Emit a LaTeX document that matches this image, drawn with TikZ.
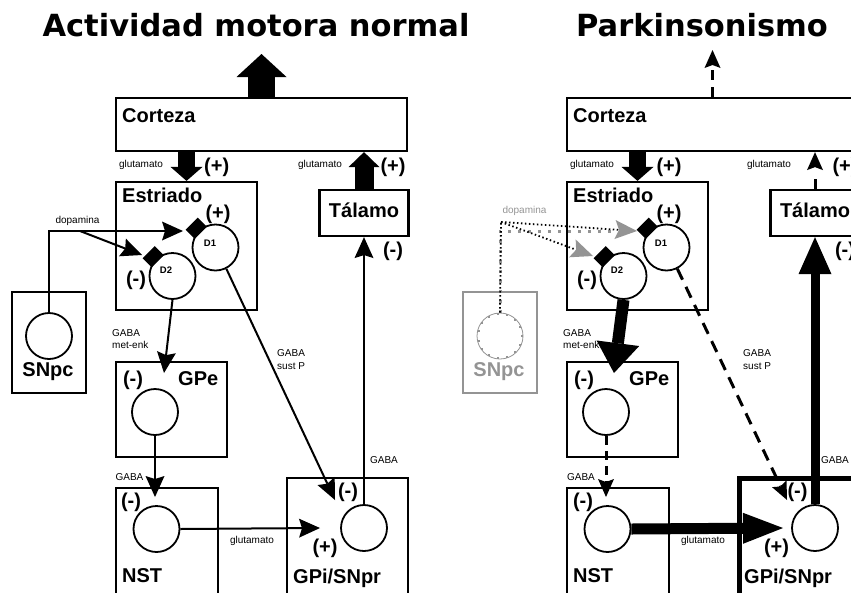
\documentclass[tikz,border=0pt]{standalone}
\usepackage{fontspec}
\setmainfont{Liberation Sans}
\newfontfamily\titlefont{DejaVu Sans}
\usepackage{xcolor}
\usepackage{tikz}
\usetikzlibrary{arrows.meta, calc}

\definecolor{faded}{gray}{0.58}

\begin{document}
\begin{tikzpicture}[x=1pt, y=-1pt,
  box/.style={draw, line width=2.2pt, inner sep=0pt},
  cell/.style={circle, draw, fill=white, line width=1.8pt, minimum size=46pt, inner sep=0pt},
  receptor/.style={fill=black, rotate=45, minimum width=17pt, minimum height=13pt, inner sep=0pt},
  boxname/.style={font=\bfseries\fontsize{20}{24}\selectfont, inner sep=0pt},
  sign/.style={font=\bfseries\fontsize{20}{24}\selectfont, inner sep=0pt},
  tag/.style={font=\fontsize{10}{12.5}\selectfont, inner sep=0pt, align=left},
  dname/.style={font=\bfseries\fontsize{9.5}{11}\selectfont, inner sep=0pt},
  headline/.style={font=\titlefont\bfseries\fontsize{30.5}{36}\selectfont, inner sep=0pt},
  link/.style={line width=2pt, -{Stealth[length=21pt, width=19pt, inset=3pt, line width=0pt]}},
  weak/.style={line width=3pt, dash pattern=on 10pt off 7pt, -{Stealth[length=18pt, width=16pt, inset=3pt, line width=0pt]}},
  fat/.style n args={3}{line width=#1, -{Triangle[width=#2, length=#3, line width=0pt]}},
  dopa/.style={line width=1.8pt, dash pattern=on 1.5pt off 2.5pt},
  fadeddots/.style={faded, line width=3pt, dash pattern=on 3pt off 7pt}
]

\clip (0,0) rectangle (851,592);

% Actividad motora normal
\node[headline, anchor=base] (titleA) at (256,36.7) {Actividad motora normal};

\node[box, minimum width=291pt, minimum height=53pt] (corteza)  at (261.5,124.5) {};
\node[box, minimum width=141pt, minimum height=128pt] (estriado) at (186.5,246) {};
\node[box, minimum width=89pt,  minimum height=46pt]  (talamo)   at (364,213) {};
\node[box, minimum width=74pt,  minimum height=101pt] (snpc)     at (49,342.5) {};
\node[box, minimum width=111pt, minimum height=95pt]  (gpe)      at (171.5,409.5) {};
\node[box, minimum width=102pt, minimum height=132pt] (nst)      at (167,554) {};
\node[box, minimum width=121pt, minimum height=142pt] (gpi)      at (347.5,549) {};

\node[boxname, anchor=base west] at (122,122.5) {Corteza};
\node[boxname, anchor=base west] at (122,202.3) {Estriado};
\node[boxname, anchor=base]      at (364,217.5) {Tálamo};
\node[boxname, anchor=base]      at (48,376)    {SNpc};
\node[boxname, anchor=base west] at (178,385)   {GPe};
\node[boxname, anchor=base west] at (122,582.7) {NST};
\node[boxname, anchor=base west] at (293,583)   {GPi/SNpr};

\node[cell] (d1)    at (215.5,247.5) {};
\node[cell] (d2)    at (172.5,276) {};
\node[cell] (snpcc) at (49,336) {};
\node[cell] (gpec)  at (155,412) {};
\node[cell] (nstc)  at (156.5,529) {};
\node[cell] (gpic)  at (364,528) {};

\node[receptor] at ($(d1.center)!1.14!(d1.135)$) {};
\node[receptor] at ($(d2.center)!1.14!(d2.135)$) {};
\node[dname] at (210,243) {D1};
\node[dname] at (166,270) {D2};

\coordinate (out) at (261.5,54);
\draw[fat={27pt}{50pt}{23pt}] (corteza.north) -- (out);
\draw[fat={17pt}{32pt}{14pt}] (estriado.north |- corteza.south) -- (estriado.north);
\draw[fat={19pt}{31pt}{15pt}] (talamo.north) -- (talamo.north |- corteza.south);

\coordinate (dopa)      at (49,231);
\coordinate (dopasplit) at (80,231);
\coordinate (d1in)      at (183,231);
\coordinate (d2in)      at (142,255);
\draw[link] (snpcc.north) -- (dopa) -- (d1in);
\draw[link] (dopasplit) -- (d2in);

\coordinate (gpein) at (164,373);
\coordinate (nstin) at (155,497);
\coordinate (gpiin) at (320,528);
\coordinate (gpiup) at (335,500);
\draw[link] (d2.south) -- (gpein);
\draw[link] (d1.-63) -- (gpiup);
\draw[link] (gpec.south) -- (nstin);
\draw[link] (nstc.east) -- (gpiin);
\draw[link] (gpic.north) -- (talamo.south);

\node[tag] at (141,164.5) {glutamato};
\node[tag] at (320,164.5) {glutamato};
\node[tag] at (77.5,221) {dopamina};
\node[tag, anchor=west] at (112,339) {GABA\\met-enk};
\node[tag, anchor=west] at (277,359.5) {GABA\\sust P};
\node[tag] at (129.5,477.5) {GABA};
\node[tag] at (252,541) {glutamato};
\node[tag] at (384,460) {GABA};

\node[sign] at (216.7,167) {(+)};
\node[sign] at (393,167) {(+)};
\node[sign] at (218,214) {(+)};
\node[sign] at (136,280) {(-)};
\node[sign] at (393,251) {(-)};
\node[sign] at (133,380) {(-)};
\node[sign] at (131,502) {(-)};
\node[sign] at (348,492) {(-)};
\node[sign] at (325,548) {(+)};

% Parkinsonismo
\begin{scope}[xshift=451pt]
\node[headline, anchor=base] (titleB) at (251,36.7) {Parkinsonismo};

\node[box, minimum width=291pt, minimum height=53pt] (cortezaR)  at (261.5,124.5) {};
\node[box, minimum width=141pt, minimum height=128pt] (estriadoR) at (186.5,246) {};
\node[box, minimum width=89pt,  minimum height=46pt]  (talamoR)   at (364,213) {};
\node[box, draw=faded, minimum width=74pt, minimum height=101pt] (snpcR) at (49,342.5) {};
\node[box, minimum width=111pt, minimum height=95pt]  (gpeR)      at (171.5,409.5) {};
\node[box, minimum width=102pt, minimum height=132pt] (nstR)      at (167,554) {};
\node[box, line width=5pt, minimum width=119pt, minimum height=142pt] (gpiR) at (347.5,549) {};

\node[boxname, anchor=base west] at (122,122.5) {Corteza};
\node[boxname, anchor=base west] at (122,202.3) {Estriado};
\node[boxname, anchor=base]      at (364,217.5) {Tálamo};
\node[boxname, anchor=base, faded] at (48,376)  {SNpc};
\node[boxname, anchor=base west] at (178,385)   {GPe};
\node[boxname, anchor=base west] at (122,582.7) {NST};
\node[boxname, anchor=base west] at (293,583)   {GPi/SNpr};

\node[cell] (d1R)   at (215.5,247.5) {};
\node[cell] (d2R)   at (172.5,276) {};
\node[cell, draw=faded, line width=0.8pt] (snpccR) at (49,336) {};
\node[cell] (gpecR) at (155,412) {};
\node[cell] (nstcR) at (156.5,529) {};
\node[cell] (gpicR) at (364,528) {};

\foreach \a in {0,24,...,336}
  \fill[faded] ($(snpccR.center)!0.93!(snpccR.\a)+(-1,-1)$) rectangle +(2,2);

\node[receptor] at ($(d1R.center)!1.14!(d1R.135)$) {};
\node[receptor] at ($(d2R.center)!1.14!(d2R.135)$) {};
\node[dname] at (210,243) {D1};
\node[dname] at (166,270) {D2};

\coordinate (outR) at (261.5,50);
\draw[weak] (cortezaR.north) -- (outR);
\draw[fat={17pt}{32pt}{14pt}] (estriadoR.north |- cortezaR.south) -- (estriadoR.north);
\draw[weak, dash pattern=on 10pt off 13pt] (talamoR.north) -- (talamoR.north |- cortezaR.south);

% dopamina (faded)
\coordinate (dopaR)     at (50,222);
\coordinate (dopaRbend) at (49,231);
\coordinate (d1inR)     at (186,231);
\coordinate (d2inR)     at (142,256);
\draw[fadeddots, shorten >=22pt] (snpccR.north) -- (dopaRbend) -- (d1inR);
\draw[dopa] (snpccR.north) -- (dopaR);
\draw[dopa, -{Stealth[length=22pt, width=19pt, inset=4pt, color=faded, line width=0pt]}] (dopaR) -- (d1inR);
\draw[dopa, -{Stealth[length=22pt, width=19pt, inset=4pt, color=faded, line width=0pt]}] (dopaR) -- (d2inR);

\coordinate (gpeinR) at (163,373);
\coordinate (nstinR) at (155,497);
\coordinate (gpiinR) at (332,528);
\coordinate (gpiupR) at (336,500);
\draw[fat={12pt}{43pt}{30pt}] (d2R.south) -- (gpeinR);
\draw[weak, dash pattern=on 12pt off 8pt] (d1R.-63) -- (gpiupR);
\draw[weak, dash pattern=on 9pt off 6pt] (gpecR.south) -- (nstinR);
\draw[fat={11pt}{31pt}{40pt}] (nstcR.east) -- (gpiinR);
\draw[fat={9pt}{33pt}{37pt}] (gpicR.north) -- (talamoR.south);

\node[tag] at (141,164.5) {glutamato};
\node[tag] at (318,164.5) {glutamato};
\node[tag, faded] at (73.5,211) {dopamina};
\node[tag, anchor=west] at (112,339) {GABA\\met-enk};
\node[tag, anchor=west] at (292,359.5) {GABA\\sust P};
\node[tag] at (130,477.5) {GABA};
\node[tag] at (252,541) {glutamato};
\node[tag] at (384,460) {GABA};

\node[sign] at (218,167) {(+)};
\node[sign] at (394,167) {(+)};
\node[sign] at (218,214) {(+)};
\node[sign] at (136,280) {(-)};
\node[sign] at (394,251) {(-)};
\node[sign] at (133,380) {(-)};
\node[sign] at (132,502) {(-)};
\node[sign] at (346.5,492) {(-)};
\node[sign] at (325.5,548) {(+)};
\end{scope}

\end{tikzpicture}
\end{document}
